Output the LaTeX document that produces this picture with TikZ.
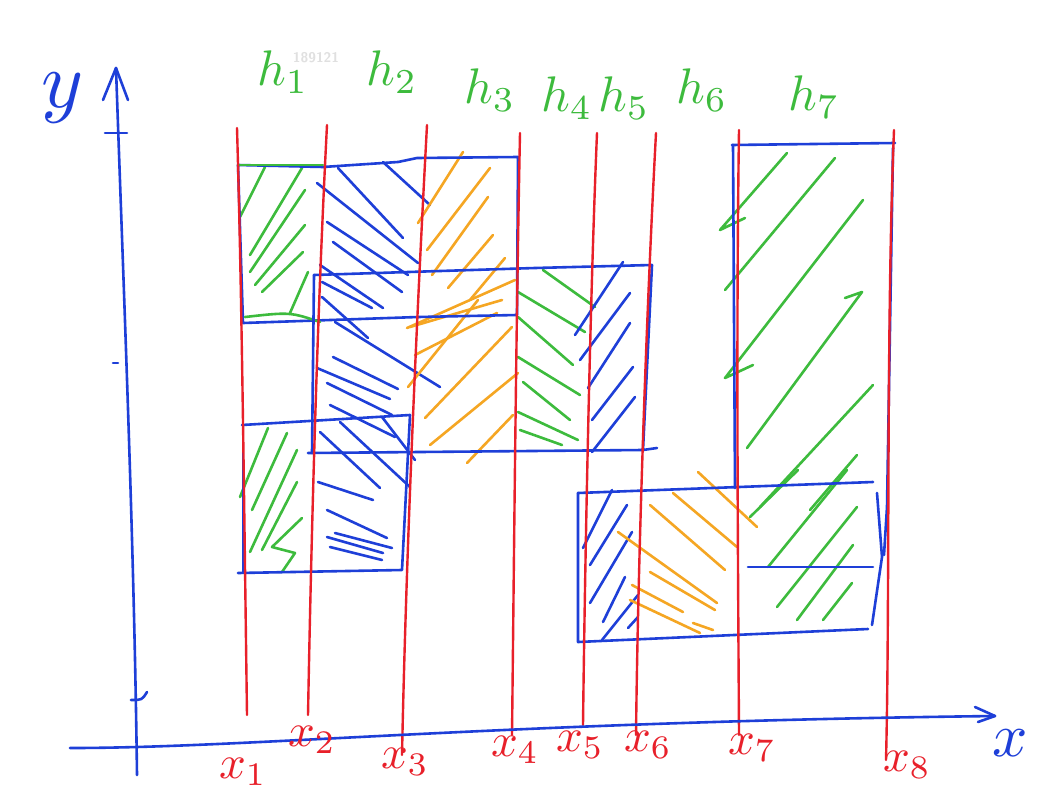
\documentclass[tikz,border=0pt]{standalone}
\usepackage{graphicx}
\usepackage{tikz}
\definecolor{pblue}{HTML}{1E3FD8}
\definecolor{pred}{HTML}{E8202A}
\definecolor{pgreen}{HTML}{3DBB3D}
\definecolor{porange}{HTML}{F5A623}
\newcommand{\myH}[1]{\scalebox{5.0}{$h_{#1}$}}
\newcommand{\myX}[1]{\scalebox{4.7}{$x_{#1}$}}
\begin{document}
\begin{tikzpicture}[x=1pt,y=-1pt,line cap=round,line join=round,
  bl/.style={draw=pblue,line width=2.6pt},
  rd/.style={draw=pred,line width=2.4pt},
  gh/.style={draw=pgreen,line width=2.6pt},
  oh/.style={draw=porange,line width=2.6pt},
  bh/.style={draw=pblue,line width=2.6pt},
  hlab/.style={text=pgreen,inner sep=0pt},
  xlab/.style={text=pred,inner sep=0pt},
  axlab/.style={text=pblue,inner sep=0pt}]
\useasboundingbox[fill=white] (0,0) rectangle (1043,800);

% watermark
\node[text=black!12,font=\fontsize{14}{14}\selectfont\sffamily\bfseries] (wm) at (316,58) {189121};

% ---------- hatching ----------
% green x1-x2 top
\foreach \ax/\ay/\bx/\by in {265/167/240/217, 302/168/250/255, 305/190/250/272, 305/225/255/285, 303/252/262/292, 308/272/290/313}
  \draw[gh] (\ax,\ay) -- (\bx,\by);
% blue x2-x3 top
\foreach \ax/\ay/\bx/\by in {338/168/403/238, 383/162/430/205, 317/183/418/263, 327/222/408/275, 333/242/402/292, 320/265/383/308, 322/282/372/308, 322/297/368/338,
  335/322/440/387, 333/357/398/389, 317/368/390/399, 327/383/392/415, 330/405/395/437}
  \draw[bh] (\ax,\ay) -- (\bx,\by);
% blue x2-x3 bottom
\foreach \ax/\ay/\bx/\by in {340/422/410/487, 320/432/380/488, 382/417/415/460, 318/482/373/500, 327/510/387/538, 335/533/392/548, 327/537/383/553, 330/547/382/560}
  \draw[bh] (\ax,\ay) -- (\bx,\by);
% green x1-x2 bottom
\foreach \ax/\ay/\bx/\by in {268/428/240/497, 287/433/252/510, 297/450/250/552, 297/482/262/550}
  \draw[gh] (\ax,\ay) -- (\bx,\by);
\draw[gh] (302,518) -- (272,547) -- (295,553) -- (282,572);
% orange x3-x4
\foreach \ax/\ay/\bx/\by in {463/152/418/223, 490/168/427/250, 488/197/432/275, 493/235/448/288, 505/258/470/300, 515/280/407/328,
  502/300/410/327, 497/313/415/355, 478/300/408/387, 512/327/425/418, 518/373/430/445, 513/415/467/463}
  \draw[oh] (\ax,\ay) -- (\bx,\by);
% green x4-x5
\foreach \ax/\ay/\bx/\by in {543/270/595/307, 518/292/585/332, 518/317/573/365, 518/357/580/395, 523/382/570/420, 518/412/578/440, 520/430/562/445}
  \draw[gh] (\ax,\ay) -- (\bx,\by);
% blue x5-x6 upper
\foreach \ax/\ay/\bx/\by in {623/262/575/335, 630/293/580/360, 630/323/588/388, 633/367/592/420, 635/397/592/452}
  \draw[bh] (\ax,\ay) -- (\bx,\by);
% blue x5-x6 lower
\foreach \ax/\ay/\bx/\by in {612/490/583/548, 627/505/590/565, 632/532/590/603, 625/577/603/622, 638/595/602/640, 638/617/628/628}
  \draw[bh] (\ax,\ay) -- (\bx,\by);
% orange x6-x7
\foreach \ax/\ay/\bx/\by in {618/532/717/603, 650/505/725/570, 673/493/737/547, 698/472/757/527, 650/572/715/610, 632/585/683/612, 630/600/700/633, 693/623/713/630}
  \draw[oh] (\ax,\ay) -- (\bx,\by);
% green x7-x8
\draw[gh] (787,153) -- (720,230) -- (745,218);
\draw[gh] (835,158) -- (725,290);
\draw[gh] (863,200) -- (725,378) -- (753,365);
\draw[gh] (845,298) -- (862,292) -- (747,448);
\foreach \ax/\ay/\bx/\by in {873/385/760/507, 857/455/810/510, 798/470/750/517, 847/470/768/567, 857/507/777/607, 853/545/797/620, 852/583/823/620}
  \draw[gh] (\ax,\ay) -- (\bx,\by);

% ---------- building outlines ----------
% A
\draw[bl] (323,167) -- (398,162) -- (417,158) -- (518,157) -- (517,315) -- (418,317) -- (243,323) -- (238,165) -- cycle;
\draw[gh] (238,165) -- (323,165);
\draw[gh] (245,317) .. controls (290,312) .. (320,322);
% B
\draw[bl] (314,275) -- (535,268) -- (652,265) -- (643,450) -- (657,448) (643,450) -- (308,453);
\draw[bl] (314,275) -- (312,453);
% C
\draw[bl] (242,425) -- (410,415) -- (402,570) -- (238,573);
\draw[bl] (243,420) -- (243,572);
% D
\draw[bl] (578,493) -- (873,482);
\draw[bl] (578,493) -- (578,642) -- (868,629);
\draw[bl] (877,493) -- (882,557) -- (872,625);
\draw[bl] (748,567) -- (873,567);
% E
\draw[bl] (732,145) -- (895,143);
\draw[bl] (733,145) -- (735,488);
\draw[bl] (893,148) -- (887,507) -- (884,555);

% ---------- red vertical lines ----------
\draw[rd] (237,128) .. controls (242,300) and (244,500) .. (247,715);
\draw[rd] (327,125) .. controls (318,300) and (312,500) .. (308,715);
\draw[rd] (427,125) .. controls (416,330) and (406,560) .. (402,755);
\draw[rd] (520,133) .. controls (516,330) and (514,560) .. (512,735);
\draw[rd] (597,133) .. controls (590,300) and (585,560) .. (583,725);
\draw[rd] (656,133) .. controls (646,320) and (638,560) .. (636,735);
\draw[rd] (739,130) .. controls (736,330) and (738,560) .. (739,735);
\draw[rd] (894,130) .. controls (886,330) and (890,600) .. (886,760);

% ---------- axes ----------
\coordinate (ybot) at (137,775);
\coordinate (ytop) at (116,68);
\coordinate (xleft) at (70,748);
\coordinate (xright) at (995,716);
\draw[bl] (ybot) .. controls (134,540) and (124,300) .. (ytop);
\draw[bl] (103,100) -- (ytop) -- (128,100);
\draw[bl] (105,133) -- (127,133);
\draw[bl] (113,363) -- (118,363);
\draw[bl] (131,700) .. controls (142,700) .. (147,692);
\draw[bl] (xleft) .. controls (250,748) and (500,722) .. (xright);
\draw[bl] (975,707) -- (xright) -- (978,722);

% ---------- labels ----------
\node[axlab] (ylab) at (63,98) {\scalebox{8}{$y$}};
\node[axlab] (xaxlab) at (1010,743) {\scalebox{6.2}{$x$}};
\node[hlab] (h1) at (283,72) {\myH{1}};
\node[hlab] (h2) at (392,72) {\myH{2}};
\node[hlab] (h3) at (490,90) {\myH{3}};
\node[hlab] (h4) at (567,98) {\myH{4}};
\node[hlab] (h5) at (624,98) {\myH{5}};
\node[hlab] (h6) at (702,90) {\myH{6}};
\node[hlab] (h7) at (814,97) {\myH{7}};
\node[xlab] (x1) at (243,772) {\myX{1}};
\node[xlab] (x2) at (312,740) {\myX{2}};
\node[xlab] (x3) at (405,762) {\myX{3}};
\node[xlab] (x4) at (515,750) {\myX{4}};
\node[xlab] (x5) at (580,745) {\myX{5}};
\node[xlab] (x6) at (648,745) {\myX{6}};
\node[xlab] (x7) at (752,748) {\myX{7}};
\node[xlab] (x8) at (907,765) {\myX{8}};
\end{tikzpicture}
\end{document}
